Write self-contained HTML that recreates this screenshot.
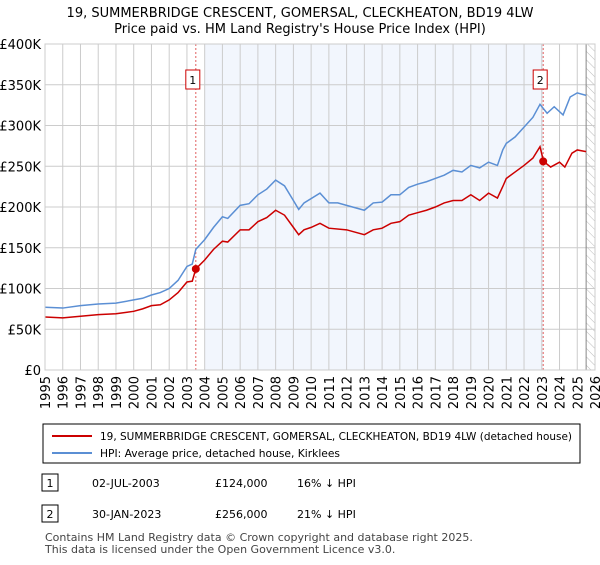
<!DOCTYPE html>
<html><head><meta charset="utf-8"><style>
body{margin:0;background:#fff;font-family:"Liberation Sans","DejaVu Sans",sans-serif;}
svg text{font-family:"DejaVu Sans","Liberation Sans",sans-serif;}
</style></head><body>
<svg id="c" width="600" height="560" viewBox="0 0 600 560" xmlns="http://www.w3.org/2000/svg">
<text x="300" y="17" text-anchor="middle" font-size="13">19, SUMMERBRIDGE CRESCENT, GOMERSAL, CLECKHEATON, BD19 4LW</text>
<text x="300" y="33" text-anchor="middle" font-size="13">Price paid vs. HM Land Registry's House Price Index (HPI)</text>
<defs><pattern id="hatch" width="6" height="6" patternUnits="userSpaceOnUse" patternTransform="rotate(-45)"><line x1="0" y1="0" x2="0" y2="6" stroke="#bbb" stroke-width="1"/></pattern></defs>
<g id="plot"></g>
<rect x="43" y="424" width="537" height="39" fill="#fff" stroke="#000"/>
<line x1="52" y1="436" x2="92" y2="436" stroke="#cc0000" stroke-width="2"/>
<text x="100" y="440" font-size="11" textLength="472" lengthAdjust="spacingAndGlyphs">19, SUMMERBRIDGE CRESCENT, GOMERSAL, CLECKHEATON, BD19 4LW (detached house)</text>
<line x1="52" y1="453" x2="92" y2="453" stroke="#5b8fd4" stroke-width="2"/>
<text x="100" y="457" font-size="11" textLength="240" lengthAdjust="spacingAndGlyphs">HPI: Average price, detached house, Kirklees</text>
<g>
<rect x="42" y="474" width="16" height="17" fill="#fff" stroke="#000"/><text x="50" y="487" text-anchor="middle" font-size="11">1</text>
<text x="92" y="487" font-size="11">02-JUL-2003</text><text x="215" y="487" font-size="11">£124,000</text><text x="297" y="487" font-size="11">16% ↓ HPI</text></g>
<g>
<rect x="42" y="505" width="16" height="17" fill="#fff" stroke="#000"/><text x="50" y="518" text-anchor="middle" font-size="11">2</text>
<text x="92" y="518" font-size="11">30-JAN-2023</text><text x="215" y="518" font-size="11">£256,000</text><text x="297" y="518" font-size="11">21% ↓ HPI</text></g>
<text x="45" y="541" font-size="11" fill="#444">Contains HM Land Registry data © Crown copyright and database right 2025.</text>
<text x="45" y="553" font-size="11" fill="#444">This data is licensed under the Open Government Licence v3.0.</text>
</svg>
<script>
const hpiYears=[1995,1996,1997,1998,1999,2000,2000.5,2001,2001.5,2002,2002.5,2003,2003.3,2003.5,2004,2004.5,2005,2005.3,2006,2006.5,2007,2007.5,2008,2008.5,2009,2009.3,2009.6,2010.5,2011,2011.5,2012,2013,2013.5,2014,2014.5,2015,2015.5,2016,2016.5,2017,2017.5,2018,2018.5,2019,2019.5,2020,2020.5,2020.8,2021,2021.5,2022,2022.5,2022.9,2023.3,2023.7,2024.2,2024.6,2025,2025.5];
const hpiValues=[77,76,79,81,82,86,88,92,95,100,110,127,130,148,160,175,188,186,202,204,215,222,233,226,208,197,205,217,205,205,202,196,205,206,215,215,224,228,231,235,239,245,243,251,248,255,251,270,278,286,298,310,326,315,323,313,335,340,337];
const priceYears=[1995,1996,1997,1998,1999,2000,2000.5,2001,2001.5,2002,2002.5,2003,2003.3,2003.5,2004,2004.5,2005,2005.3,2006,2006.5,2007,2007.5,2008,2008.5,2009,2009.3,2009.6,2010,2010.5,2011,2012,2013,2013.5,2014,2014.5,2015,2015.5,2016,2016.5,2017,2017.5,2018,2018.5,2019,2019.5,2020,2020.5,2020.8,2021,2021.5,2022,2022.5,2022.9,2023.1,2023.5,2024,2024.3,2024.7,2025,2025.5];
const priceValues=[65,64,66,68,69,72,75,79,80,86,95,108,109,124,135,148,158,157,172,172,182,187,196,190,175,166,172,175,180,174,172,166,172,174,180,182,190,193,196,200,205,208,208,215,208,217,211,225,235,243,251,260,274,256,249,255,249,266,270,268];
const saleYears=[2003.5,2023.08];
const saleValues=[124,256];
const yTicks=[0,50,100,150,200,250,300,350,400];
const yTickLabels=["£0","£50K","£100K","£150K","£200K","£250K","£300K","£350K","£400K"];
const xTicks=[1995,1996,1997,1998,1999,2000,2001,2002,2003,2004,2005,2006,2007,2008,2009,2010,2011,2012,2013,2014,2015,2016,2017,2018,2019,2020,2021,2022,2023,2024,2025,2026];
const X0=45,X1=595,Y0=370,Y1=44;
const xs=y=>X0+(y-1995)/(2026-1995)*(X1-X0);
const ys=v=>Y0-v/400*(Y0-Y1);
const g=document.getElementById('plot');const NS='http://www.w3.org/2000/svg';
function mk(t,a,p){const e=document.createElementNS(NS,t);for(const k in a)e.setAttribute(k,a[k]);(p||g).appendChild(e);return e;}
let e;
e=mk('rect',{x:xs(2004),y:Y1,width:xs(saleYears[1])-xs(2004),height:Y0-Y1,fill:'#f2f6fd'});


e=mk('rect',{x:xs(2025.5),y:Y1,width:X1-xs(2025.5),height:Y0-Y1,fill:'url(#hatch)'});


yTicks.forEach((v,i)=>{
 e=mk('line',{x1:X0,x2:X1,y1:ys(v),y2:ys(v),stroke:'#ccc'});
 
 
 e=mk('text',{x:X0-4,y:ys(v)+5,'text-anchor':'end','font-size':'13'});e.textContent=yTickLabels[i];
 
 
});
xTicks.forEach(yr=>{
 e=mk('line',{x1:xs(yr),x2:xs(yr),y1:Y1,y2:Y0,stroke:'#ccc'});
 
 
 e=mk('text',{x:0,y:0,'text-anchor':'end','font-size':'13',transform:`translate(${xs(yr)+5},${Y0+6}) rotate(-90)`});e.textContent=yr;
 
 
});
e=mk('line',{x1:xs(2025.5),x2:xs(2025.5),y1:Y1,y2:Y0,stroke:'#888'});


saleYears.forEach((yr,i)=>{
 e=mk('line',{x1:xs(yr),x2:xs(yr),y1:Y1,y2:Y0,stroke:'#e06060','stroke-dasharray':'2,2'});
 
 
 e=mk('rect',{x:xs(yr)-10,y:70,width:14,height:19,fill:'#fff',stroke:'#cc0000'});
 
 
 e=mk('text',{x:xs(yr)-3,y:84,'text-anchor':'middle','font-size':'11'});e.textContent=i+1;
 
 
});
e=mk('polyline',{points:hpiYears.map((y,i)=>xs(y)+','+ys(hpiValues[i])).join(' '),fill:'none',stroke:'#5b8fd4','stroke-width':1.5});


e=mk('polyline',{points:priceYears.map((y,i)=>xs(y)+','+ys(priceValues[i])).join(' '),fill:'none',stroke:'#cc0000','stroke-width':1.5});


saleYears.forEach((yr,i)=>{
 e=mk('circle',{cx:xs(yr),cy:ys(saleValues[i]),r:4,fill:'#cc0000'});
 
 
});
e=mk('rect',{x:X0,y:Y1,width:X1-X0,height:Y0-Y1,fill:'none',stroke:'#ccc'});


</script>
</body></html>
